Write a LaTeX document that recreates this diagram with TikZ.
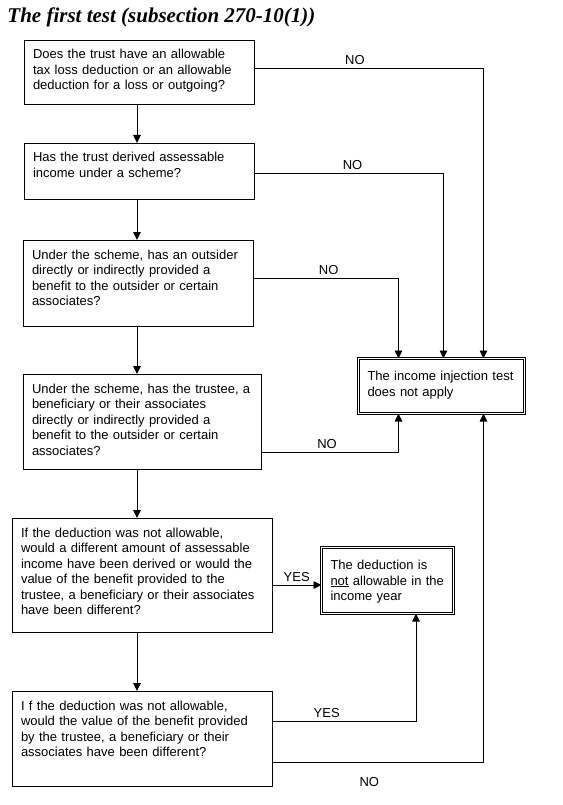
\documentclass[tikz,border=0pt]{standalone}
\usepackage{fontspec}
\setmainfont{Liberation Sans}
\newfontfamily\headfont{Liberation Serif}
\usetikzlibrary{arrows.meta,positioning,calc}
\tikzset{
    question/.style={
        rectangle,
        draw=black,
        line width=0.9pt,
        anchor=north west,
        align=left,
        inner xsep=9pt,
        inner ysep=6pt,
        outer sep=0pt,
        text height=13pt,
        font=\fontsize{13}{15.5}\selectfont,
    },
    result/.style={
        question,
        double,
        double distance=1.6pt,
        line width=0.7pt,
        inner ysep=8pt,
        text height=14pt,
    },
    answer/.style={
        font=\fontsize{13}{15}\selectfont,
        inner sep=3pt,
    },
}

\begin{document}
\begin{tikzpicture}[x=1pt,y=-1pt,>={Triangle[length=8pt,width=7.5pt]},line width=0.9pt]
    \useasboundingbox (0,0) rectangle (562,805);
    \node [anchor=west,inner sep=0pt,font=\headfont\fontsize{21}{22}\selectfont\bfseries\itshape] (title) at (7,17) {The first test (subsection 270-10(1))};

    % questions down the left side
    \node [question,text width=212pt,text depth=39pt] (q1) at (24,40) {Does the trust have an allowable\\tax loss deduction or an allowable\\deduction for a loss or outgoing?};
    \node [question,text width=212pt,text depth=31pt] (q2) at (24,143) {Has the trust derived assessable\\income under a scheme?};
    \node [question,text width=212pt,text depth=61pt] (q3) at (23,240) {Under the scheme, has an outsider\\directly or indirectly provided a\\benefit to the outsider or certain\\associates?};
    \node [question,text width=220pt,text depth=70pt] (q4) at (23,374) {Under the scheme, has the trustee, a\\beneficiary or their associates\\directly or indirectly provided a\\benefit to the outsider or certain\\associates?};
    \node [question,text width=242pt,text depth=89pt] (q5) at (12,518) {If the deduction was not allowable,\\would a different amount of assessable\\income have been derived or would the\\value of the benefit provided to the\\trustee, a beneficiary or their associates\\have been different?};
    \node [question,text width=242pt,text depth=70pt] (q6) at (12,691) {I f the deduction was not allowable,\\would the value of the benefit provided\\by the trustee, a beneficiary or their\\associates have been different?};

    % outcomes
    \node [result,text width=148pt,text depth=25pt] (noapply) at (358.5,358.5) {The income injection test\\does not apply};
    \node [result,text width=114pt,text depth=36pt] (notallow) at (321.5,547.5) {The deduction is\\\underline{not} allowable in the\\income year};

    \coordinate (spine) at (137,0);
    \coordinate (yesin) at ([yshift=-10pt]q5.east);
    \draw[->] (q1.south -| spine) -- (q2.north -| spine);
    \draw[->] (q2.south -| spine) -- (q3.north -| spine);
    \draw[->] (q3.south -| spine) -- (q4.north -| spine);
    \draw[->] (q4.south -| spine) -- (q5.north -| spine);
    \draw[->] (q5.south -| spine) -- (q6.north -| spine);

    \draw[->] ([yshift=4pt]q1.east) -| node[answer,pos=0.22,above] {NO} ([xshift=42pt]noapply.north);
    \draw[->] ([yshift=-2pt]q2.east) -| node[answer,pos=0.26,above] {NO} ([xshift=2pt]noapply.north);
    \draw[->] ([yshift=5pt]q3.east) -| node[answer,pos=0.26,above] {NO} ([xshift=-43pt]noapply.north);
    \draw[->] ([yshift=-30.5pt]q4.east) -| node[answer,pos=0.24,above] {NO} ([xshift=-43pt]noapply.south);
    \draw[->] (yesin) -- node[answer,above] {YES} (notallow.west |- yesin);
    \draw[->] ([yshift=17.5pt]q6.east) -| node[answer,pos=0.19,above] {YES} ([xshift=28.5pt]notallow.south);
    \draw[->] ([yshift=-23.5pt]q6.east) -| node[answer,pos=0.23,below=12pt] {NO} ([xshift=42pt]noapply.south);
\end{tikzpicture}
\end{document}
